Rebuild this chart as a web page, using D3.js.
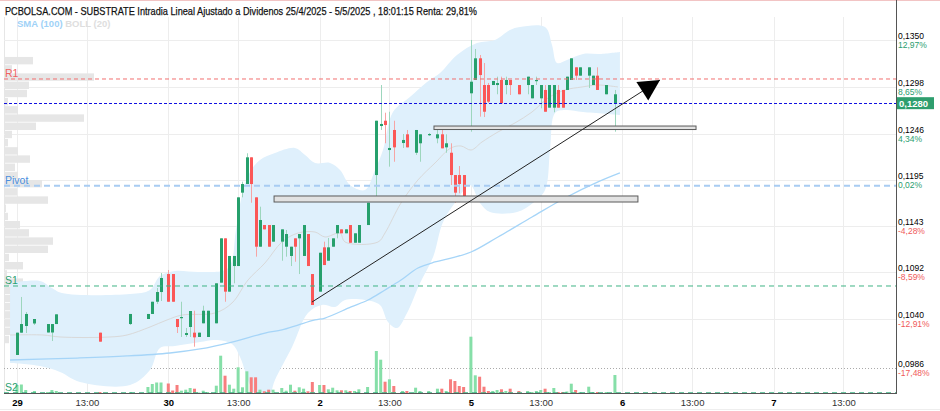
<!DOCTYPE html>
<html><head><meta charset="utf-8">
<script src="https://cdn.jsdelivr.net/npm/d3@7"></script>
<style>body{margin:0;background:#fff} svg{display:block}</style>
</head><body><svg id="c" width="940" height="411"></svg>
<script>
const title = "PCBOLSA.COM - SUBSTRATE Intradia Lineal Ajustado a Dividenos 25/4/2025 - 5/5/2025 , 18:01:15 Renta: 29,81%";
const dayLabels = ["29","30","2","5","6","7"];
const tickLabels = ["29","13:00","30","13:00","2","13:00","5","13:00","6","13:00","7","13:00"];
const priceTicks = [0.1350,0.1298,0.1246,0.1195,0.1143,0.1092,0.1040,0.0986];
const pctTicks = ["12,97%","8,65%","4,34%","0,02%","-4,28%","-8,59%","-12,91%","-17,48%"];
const lastPrice = 0.1280;
const pivotNames = ["R1","Pivot","S1","S2"];
const pivotValues = [0.13069,0.11882,0.10767,0.0958];

// [slot(15min from 9:00), open, high, low, close, volume]
const candles29 = [
 [0,0.1000,0.10248,0.1000,0.10248,8],[1,0.10248,0.10645,0.10245,0.10344,8.5],[2,0.10322,0.10478,0.10244,0.10456,3],
 [4,0.10350,0.10400,0.10333,0.10400,2],[7,0.10250,0.10344,0.10250,0.10344,1],[8,0.10250,0.10344,0.10155,0.10344,3],
 [9,0.10344,0.10452,0.10344,0.10452,2],[19,0.10248,0.10248,0.10148,0.10148,1],[26,0.10344,0.10456,0.10333,0.10456,1],
 [30,0.10400,0.10456,0.10400,0.10456,6],[31,0.10456,0.10592,0.10456,0.10592,9],[32,0.10592,0.10745,0.10567,0.10700,10.5],
 [33,0.10700,0.10911,0.10600,0.10856,10.5]];
const candles30 = [
 [0,0.10900,0.10945,0.10592,0.10592,9.5],[1,0.10900,0.10900,0.10592,0.10592,2.5],[2,0.10400,0.10400,0.10244,0.10311,8],
 [3,0.10411,0.10592,0.10200,0.10422,2.3],[4,0.10222,0.10300,0.10200,0.10244,3.3],[5,0.10311,0.10489,0.10200,0.10489,5],
 [6,0.10248,0.10492,0.10092,0.10196,4.3],[7,0.10200,0.10248,0.10200,0.10248,0.5],[8,0.10352,0.10548,0.10352,0.10492,2.3],
 [9,0.10200,0.10492,0.10200,0.10492,1],[11,0.10352,0.10797,0.10352,0.10797,7.3],[12,0.10804,0.11297,0.10804,0.11297,37.3],
 [13,0.11297,0.11297,0.10592,0.10704,17.3],[14,0.10704,0.11101,0.10704,0.11101,8.3],[15,0.10989,0.11101,0.10797,0.11101,4.3],
 [16,0.10989,0.11753,0.10989,0.11753,25.7],[17,0.11805,0.11927,0.11753,0.11901,5.7],[18,0.11901,0.12243,0.11901,0.12198,21.7],
 [19,0.12198,0.12198,0.11693,0.11901,15.7],[20,0.11753,0.11753,0.11093,0.11204,15.7],[21,0.11204,0.11649,0.11204,0.11501,3.3],
 [22,0.11445,0.11445,0.11397,0.11397,1.7],[23,0.11445,0.11445,0.11204,0.11204,3.3],[24,0.11260,0.11445,0.11260,0.11445,3.3],
 [26,0.11260,0.11397,0.11048,0.11397,5],[27,0.11204,0.11390,0.11093,0.11345,2.3],[28,0.11101,0.11204,0.10989,0.11204,8.3],
 [29,0.11297,0.11297,0.11037,0.11204,2.3],[30,0.11297,0.11345,0.10900,0.11345,5.7],[31,0.11101,0.11445,0.11101,0.11445,4.3],
 [32,0.11345,0.11345,0.10989,0.10989,1.7],[33,0.10900,0.10900,0.10556,0.10556,11]];
const candles02 = [
 [0,0.10704,0.11137,0.10704,0.11137,8],[1,0.11197,0.11260,0.11000,0.11000,8],[2,0.11048,0.11301,0.11048,0.11197,3.7],
 [3,0.11204,0.11297,0.11204,0.11297,5.3],[4,0.11353,0.11445,0.11297,0.11445,2.7],[5,0.11397,0.11397,0.11353,0.11353,2.7],
 [6,0.11353,0.11397,0.11353,0.11397,2.7],[7,0.11445,0.11445,0.11248,0.11248,2],[8,0.11248,0.11353,0.11248,0.11353,2],
 [9,0.11248,0.11445,0.11248,0.11445,3.7],[11,0.11445,0.11693,0.11445,0.11693,6],[13,0.12001,0.12605,0.11742,0.12605,42],
 [14,0.12546,0.13002,0.12502,0.12569,33.3],[15,0.12605,0.12694,0.12354,0.12557,11.3],[16,0.12279,0.12705,0.12094,0.12302,13.7],
 [17,0.12502,0.12605,0.12149,0.12309,7],[19,0.12357,0.12457,0.12302,0.12391,2],[20,0.12454,0.12502,0.12309,0.12309,2],
 [22,0.12249,0.12502,0.12224,0.12502,5.3],[23,0.12354,0.12454,0.12149,0.12454,2],[25,0.12446,0.12468,0.12435,0.12457,2],
 [27,0.12409,0.12502,0.12354,0.12454,4.3],[28,0.12454,0.12502,0.12298,0.12298,4.3],[29,0.12309,0.12454,0.12249,0.12354,2],
 [30,0.12249,0.12354,0.11890,0.12001,13.7],[31,0.12001,0.12001,0.11693,0.11805,12],[32,0.12001,0.12101,0.11798,0.11901,7],
 [33,0.12001,0.12001,0.11757,0.11760,6]];
const candles05 = [
 [0,0.12910,0.13503,0.12483,0.13039,56.3],[1,0.13058,0.13403,0.13058,0.13299,17.7],[2,0.13299,0.13336,0.12650,0.13113,16.3],
 [3,0.13002,0.13247,0.12646,0.12705,6.3],[4,0.13002,0.13025,0.12802,0.12817,2],[5,0.13002,0.13047,0.13002,0.13047,2],
 [6,0.13002,0.13095,0.12899,0.13024,3],[7,0.13058,0.13095,0.12799,0.12799,3.7],[8,0.13002,0.13095,0.12899,0.13058,2],
 [9,0.13058,0.13058,0.12891,0.13002,4.3],[11,0.13002,0.13002,0.12899,0.12899,2],[13,0.13002,0.13095,0.12899,0.13095,2],
 [14,0.12854,0.13002,0.12854,0.13002,1],[15,0.13047,0.13095,0.13002,0.13058,2],[16,0.12854,0.13002,0.12743,0.13002,3],
 [17,0.12947,0.13002,0.12705,0.12705,4.3],[18,0.12750,0.13002,0.12750,0.13002,1],[19,0.12750,0.13002,0.12699,0.13002,5],
 [20,0.12947,0.13002,0.12750,0.12750,1],[21,0.12947,0.12947,0.12750,0.12750,1],[22,0.12947,0.13095,0.12947,0.13095,1.5],
 [23,0.13058,0.13299,0.13058,0.13299,9.3],[24,0.13199,0.13199,0.13058,0.13106,3],[25,0.13106,0.13199,0.13106,0.13199,1],
 [27,0.13106,0.13199,0.12969,0.13199,6.3],[28,0.13002,0.13106,0.13002,0.13106,1],[29,0.13106,0.13199,0.12947,0.12947,1],
 [31,0.12899,0.13002,0.12899,0.13002,1],[33,0.12799,0.12947,0.12483,0.12899,18]];

// Bollinger (20) and SMA (100): [time in days from 29/4 09:00, price]
const bollUpper = [[-0.046,0.10800],[0.152,0.10823],[0.231,0.10745],[0.297,0.10689],[0.747,0.10678],[0.879,0.10723],[0.945,0.10878],[1.044,0.10934],[1.210,0.10923],[1.395,0.10967],[1.447,0.11390],[1.487,0.11779],[1.540,0.12035],[1.606,0.12168],[1.705,0.12246],[1.837,0.12302],[1.904,0.12224],[1.970,0.12135],[2.069,0.12135],[2.135,0.12057],[2.201,0.11890],[2.300,0.11835],[2.366,0.12057],[2.419,0.12279],[2.485,0.12702],[2.597,0.12869],[2.710,0.13036],[2.796,0.13136],[2.908,0.13336],[3.040,0.13469],[3.159,0.13503],[3.258,0.13614],[3.324,0.13647],[3.490,0.13647],[3.536,0.13447],[3.569,0.13247],[3.635,0.13280],[3.741,0.13347],[3.853,0.13347],[3.985,0.13369]];
const bollLower = [[-0.046,0.09911],[0.152,0.09877],[0.284,0.09811],[0.416,0.09700],[0.747,0.09666],[0.879,0.09833],[0.945,0.10078],[1.044,0.10100],[1.210,0.10144],[1.309,0.10167],[1.421,0.10122],[1.474,0.09977],[1.540,0.09666],[1.593,0.09521],[1.659,0.09521],[1.705,0.09722],[1.818,0.10089],[1.923,0.10467],[2.016,0.10556],[2.102,0.10534],[2.168,0.10611],[2.300,0.10611],[2.399,0.10556],[2.452,0.10367],[2.512,0.10300],[2.578,0.10467],[2.664,0.10800],[2.750,0.11089],[2.816,0.11479],[2.908,0.11723],[2.994,0.11890],[3.060,0.11690],[3.126,0.11590],[3.305,0.11590],[3.410,0.11690],[3.490,0.11835],[3.523,0.12279],[3.556,0.12691],[3.622,0.12724],[3.741,0.12702],[3.985,0.12669]];
const bollMid = [[-0.046,0.10222],[0.172,0.10222],[0.284,0.10200],[0.615,0.10200],[0.727,0.10222],[0.879,0.10311],[0.991,0.10389],[1.091,0.10444],[1.309,0.10467],[1.421,0.10578],[1.527,0.10834],[1.639,0.11023],[1.751,0.11256],[1.857,0.11356],[1.970,0.11367],[2.036,0.11312],[2.135,0.11356],[2.168,0.11256],[2.386,0.11256],[2.432,0.11356],[2.538,0.11690],[2.650,0.11946],[2.763,0.12135],[2.868,0.12302],[2.935,0.12324],[3.001,0.12279],[3.073,0.12368],[3.179,0.12480],[3.291,0.12580],[3.404,0.12702],[3.510,0.12858],[3.622,0.12947],[3.734,0.12980],[3.840,0.13002],[3.972,0.12980]];
const sma100 = [[-0.046,0.09944],[0.397,0.09966],[0.727,0.09989],[1.011,0.10022],[1.210,0.10067],[1.421,0.10144],[1.639,0.10244],[1.751,0.10278],[1.857,0.10333],[1.970,0.10389],[2.036,0.10411],[2.208,0.10534],[2.320,0.10611],[2.432,0.10723],[2.538,0.10834],[2.650,0.10967],[2.763,0.11034],[2.868,0.11078],[3.001,0.11145],[3.179,0.11312],[3.404,0.11534],[3.622,0.11746],[3.840,0.11924],[3.985,0.12024]];

// volume profile (price bins from top)
const profileTop = 0.13314, profileStep = 0.000912;
const profileVol = [28,7,89,24,22,3,13,79,31,7,3,13,25,10,13,37,12,43,1,3,15,24,48,43,4,18,2,18,28,18,16,8,13,13,4];

// drawn objects: support zones [t0, t1, pLow, pHigh], trend line [t0,p0,t1,p1]
const zones = [[2.756,4.488,0.12507,0.12546],[1.699,4.104,0.11701,0.11768]];
const trend = [1.950,0.10589,4.250,0.13058];

const FONT = "'Liberation Sans Narrow','Liberation Sans',Arial,sans-serif";
const svg = d3.select("#c");
const L=4, R=896, T=17, B=393;
const x = d3.scaleLinear().domain([0,1]).range([17,168.3]);
const y = d3.scaleLinear().domain([0.1040,0.1298]).range([319,87]);
const yv = d3.scaleLinear().domain([0,60]).range([B,B-60]);
const xp = d3.scaleLinear().domain([0,100]).range([0,100]);
const slotT = (d,s)=> d + s*15/520;
const candles = [candles29,candles30,candles02,candles05].flatMap((arr,d)=>arr.map(r=>({t:slotT(d,r[0]),o:r[1],h:r[2],l:r[3],c:r[4],v:r[5]})));

svg.append("defs").append("clipPath").attr("id","plot").append("rect").attr("x",L).attr("y",T).attr("width",R-L).attr("height",B-T);

// frame
svg.append("line").attr("x1",0).attr("x2",940).attr("y1",0.5).attr("y2",0.5).attr("stroke","#f2c4c4");
svg.append("text").attr("x",5).attr("y",15).attr("font-family",FONT).attr("font-size",11.5).attr("fill","#111")
  .attr("stroke","#111").attr("stroke-width",0.25)
  .attr("textLength",472).attr("lengthAdjust","spacingAndGlyphs").text(title);
svg.append("line").attr("x1",L+0.5).attr("x2",L+0.5).attr("y1",T).attr("y2",B).attr("stroke","#e6e6e6");

const tickVals = dayLabels.flatMap((_,d)=>[d, d+240/520]);
const grid = svg.append("g").attr("clip-path","url(#plot)");
grid.selectAll("line.v").data(tickVals).join("line").attr("class","v")
  .attr("x1",d=>Math.round(x(d))+0.5).attr("x2",d=>Math.round(x(d))+0.5).attr("y1",T).attr("y2",B).attr("stroke","#ededed");
grid.selectAll("line.h").data(priceTicks).join("line").attr("class","h")
  .attr("x1",L).attr("x2",R).attr("y1",d=>Math.round(y(d))+0.5).attr("y2",d=>Math.round(y(d))+0.5)
  .attr("stroke",(d,i)=>i===priceTicks.length-1?"#aaa":"#ededed").attr("stroke-dasharray",(d,i)=>i===priceTicks.length-1?"1,2":null);

// volume profile
grid.selectAll("rect.pf").data(profileVol).join("rect").attr("class","pf")
  .attr("x",L+1).attr("width",d=>xp(d))
  .attr("y",(d,i)=>y(profileTop-i*profileStep)).attr("height",(d,i)=>y(profileTop-(i+1)*profileStep)-y(profileTop-i*profileStep)-0.8)
  .attr("fill","#e6e6e6");

// bollinger band
const cr = d3.line().x(d=>x(d[0])).y(d=>y(d[1])).curve(d3.curveCatmullRom.alpha(0.5));
const bandPath = cr(bollUpper) + "L" + cr(bollLower.slice().reverse()).slice(1) + "Z";
const plot = svg.append("g").attr("clip-path","url(#plot)");
plot.append("path").attr("d",bandPath).attr("fill","#dff0fc");
plot.append("path").attr("d",cr(bollMid)).attr("fill","none").attr("stroke","#d9d9d9").attr("stroke-width",1);
plot.append("path").attr("d",cr(sma100)).attr("fill","none").attr("stroke","#a6d5f8").attr("stroke-width",1.3);

// volume bars
plot.selectAll("rect.vol").data(candles).join("rect").attr("class","vol")
  .attr("x",d=>x(d.t)-1.5).attr("width",3).attr("y",d=>yv(d.v)).attr("height",d=>B-yv(d.v))
  .attr("fill",d=>d.c>=d.o?"#86dfa8":"#f77e7e");

// candles
const cg = plot.append("g");
cg.selectAll("line.wk").data(candles).join("line").attr("class","wk")
  .attr("x1",d=>Math.round(x(d.t))+0.5).attr("x2",d=>Math.round(x(d.t))+0.5)
  .attr("y1",d=>y(d.h)).attr("y2",d=>y(d.l)).attr("stroke",d=>d.c>=d.o?"#9dd6bd":"#f6a4a4");
cg.selectAll("rect.bd").data(candles).join("rect").attr("class","bd")
  .attr("x",d=>Math.round(x(d.t))-1).attr("width",3)
  .attr("y",d=>y(Math.max(d.o,d.c))).attr("height",d=>Math.max(1.2,Math.abs(y(d.o)-y(d.c))))
  .attr("fill",d=>d.c>=d.o?"#26a06c":"#fb5757");

// level lines
const levelStyle = [["#f27070","4,3",1],["#a8ccf2","6,4",2],["#3fb385","5,4",1],["#3fb385","5,4",1]];
const levelColor = ["#f06262","#4a8ede","#2aa070","#2aa070"];
pivotValues.forEach((v,i)=>{
  plot.append("line").attr("x1",L).attr("x2",R).attr("y1",y(v)).attr("y2",y(v))
   .attr("stroke",levelStyle[i][0]).attr("stroke-dasharray",levelStyle[i][1]).attr("stroke-width",levelStyle[i][2]);
  svg.append("text").attr("x",5).attr("y",Math.min(y(v)-1.5,B-1)).attr("font-family",FONT).attr("font-size",10.5)
   .attr("fill",levelColor[i]).text(pivotNames[i]);
});
plot.append("line").attr("x1",L).attr("x2",R).attr("y1",Math.round(y(lastPrice))+0.5).attr("y2",Math.round(y(lastPrice))+0.5)
  .attr("stroke","#1010e0").attr("stroke-dasharray","3,2");

// zones
plot.selectAll("rect.zn").data(zones).join("rect").attr("class","zn")
  .attr("x",d=>x(d[0])).attr("width",d=>x(d[1])-x(d[0]))
  .attr("y",d=>y(d[3])).attr("height",d=>y(d[2])-y(d[3]))
  .attr("fill","#e2e2e2").attr("stroke","#5a5a5a").attr("stroke-width",1);

// trend line with arrow
const x0=x(trend[0]), y0=y(trend[1]), x1=x(trend[2]), y1=y(trend[3]);
plot.append("line").attr("x1",x0).attr("y1",y0).attr("x2",x1).attr("y2",y1).attr("stroke","#222").attr("stroke-width",1);
const ang = Math.atan2(y1-y0,x1-x0), al=21, aw=11;
const bx = x1-al*Math.cos(ang), by = y1-al*Math.sin(ang);
const px = -Math.sin(ang), py = Math.cos(ang);
svg.append("path").attr("d",`M${x1},${y1}L${bx+aw*px},${by+aw*py}L${bx-aw*px},${by-aw*py}Z`).attr("fill","#000");

// axes lines
svg.append("line").attr("x1",L).attr("x2",R+0.5).attr("y1",B+0.5).attr("y2",B+0.5).attr("stroke","#555");
svg.append("line").attr("x1",R+0.5).attr("x2",R+0.5).attr("y1",0).attr("y2",B+1).attr("stroke","#555");

// bottom axis
const ax = svg.append("g").attr("transform",`translate(0,${B})`)
  .call(d3.axisBottom(x).tickValues(tickVals).tickFormat((d,i)=>tickLabels[i]).tickSize(0).tickPadding(6));
ax.select(".domain").remove();
ax.selectAll("text").attr("font-family",FONT).attr("font-size",9.5)
  .attr("font-weight",(d,i)=>i%2===0?"bold":"normal").attr("fill",(d,i)=>i%2===0?"#000":"#333");
svg.append("line").attr("x1",0).attr("x2",940).attr("y1",409.5).attr("y2",409.5).attr("stroke","#eee");

// right axis labels
const fmt = v=>d3.format(".4f")(v).replace(".",",");
priceTicks.forEach((v,i)=>{
  const gy = Math.round(y(v));
  svg.append("text").attr("x",898).attr("y",gy-1.5).attr("font-family",FONT).attr("font-size",8.5).attr("fill","#000").text(fmt(v));
  svg.append("text").attr("x",898).attr("y",gy+8).attr("font-family",FONT).attr("font-size",8.5)
    .attr("fill",pctTicks[i][0]==="-"?"#f05a5a":"#2a9d6f").text(pctTicks[i]);
});
const ly = y(lastPrice);
svg.append("rect").attr("x",R+1).attr("y",ly-6).attr("width",37).attr("height",12).attr("fill","#2e9e6e");
svg.append("text").attr("x",899).attr("y",ly+3.5).attr("font-family",FONT).attr("font-size",9.5).attr("font-weight","bold")
  .attr("fill","#fff").text(fmt(lastPrice));

// legend
const lg = svg.append("text").attr("x",17).attr("y",27).attr("font-family",FONT).attr("font-size",9.5).attr("font-weight","bold");
lg.append("tspan").attr("fill","#9fd2f7").text("SMA (100) ");
lg.append("tspan").attr("fill","#dedede").text("BOLL (20)");
</script></body></html>
